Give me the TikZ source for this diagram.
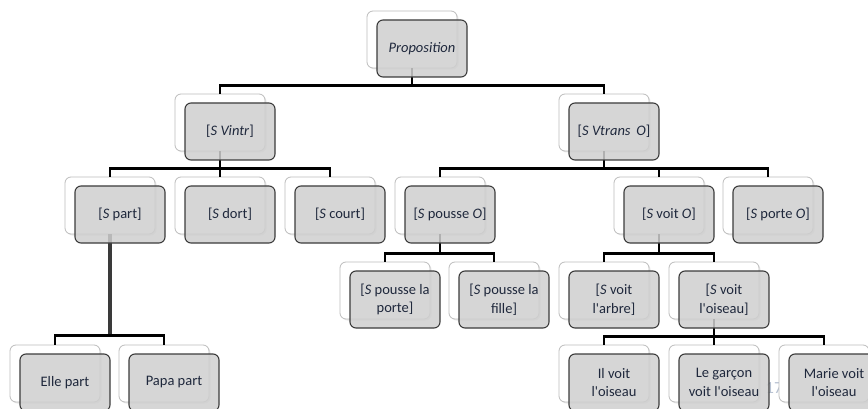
\documentclass[tikz,border=0pt]{standalone}
\usepackage{fontspec}
\newfontfamily\boxfont{Carlito}
\usetikzlibrary{shadows}
\definecolor{txt}{HTML}{1F283C}
\definecolor{backline}{HTML}{BDBDBD}
\definecolor{frontline}{HTML}{3C3C3C}
\definecolor{frontfill}{HTML}{CFCFCF}
\definecolor{thickline}{HTML}{3A3A3A}
\definecolor{pagenum}{HTML}{B8C2D2}
\begin{document}
\begin{tikzpicture}[x=1pt,y=-1pt,
  back/.style={draw=backline, fill=white, rounded corners=6pt,
    minimum width=90pt, minimum height=57pt, inner sep=0pt, line width=0.8pt,
    drop shadow={opacity=0.18, shadow xshift=1.5pt, shadow yshift=-1.5pt}},
  front/.style={draw=frontline, fill=frontfill, fill opacity=0.85, text opacity=1,
    rounded corners=6pt, minimum width=90pt, minimum height=57pt, inner sep=0pt,
    line width=1.1pt, text=txt, align=center,
    font=\boxfont\fontsize{14.5}{18.5}\selectfont},
  conn/.style={line width=2.6pt, black, line join=miter},
  thickconn/.style={line width=4.5pt, thickline},
  fshift/.style={shift={(10,9)}}]
\useasboundingbox[fill=white] (0,0) rectangle (868,409);

% faint page number behind the lowest row
\node[text=pagenum, font=\boxfont\fontsize{17}{20}\selectfont] (pnum) at (774,388) {17};

% back cards
\node[back] (prop-b)    at (412,39.5) {};
\node[back] (vintr-b)   at (220,122.5) {};
\node[back] (vtrans-b)  at (604,122.5) {};
\node[back] (part-b)    at (110,205.5) {};
\node[back] (dort-b)    at (220,205.5) {};
\node[back] (court-b)   at (330,205.5) {};
\node[back] (pousse-b)  at (440,205.5) {};
\node[back] (voit-b)    at (659,205.5) {};
\node[back] (porte-b)   at (768,205.5) {};
\node[back] (pporte-b)  at (385,290.5) {};
\node[back] (pfille-b)  at (494,290.5) {};
\node[back] (varbre-b)  at (604,290.5) {};
\node[back] (voiseau-b) at (714,290.5) {};
\node[back] (elle-b)    at (55,373.5) {};
\node[back] (papa-b)    at (164,373.5) {};
\node[back] (il-b)      at (604,373.5) {};
\node[back] (garcon-b)  at (714,373.5) {};
\node[back] (marie-b)   at (824,373.5) {};

% tree connectors
\draw[conn] (prop-b.south) -- ++(0,17) -| (vintr-b.north);
\draw[conn] (prop-b.south) -- ++(0,17) -| (vtrans-b.north);
\foreach \c in {part,dort,court}
  \draw[conn] (vintr-b.south) -- ++(0,17) -| (\c-b.north);
\foreach \c in {pousse,voit,porte}
  \draw[conn] (vtrans-b.south) -- ++(0,17) -| (\c-b.north);
\foreach \c in {pporte,pfille}
  \draw[conn] (pousse-b.south) -- ++(0,19) -| (\c-b.north);
\foreach \c in {varbre,voiseau}
  \draw[conn] (voit-b.south) -- ++(0,19) -| (\c-b.north);
\coordinate (partj) at ([yshift=9pt]part-b.south |- elle-b.north);
\draw[thickconn] (part-b.south) -- (partj);
\foreach \c in {elle,papa}
  \draw[conn] (partj) -| (\c-b.north);
\foreach \c in {il,garcon,marie}
  \draw[conn] (voiseau-b.south) -- ++(0,17) -| (\c-b.north);

% front cards
\node[front] (prop)    at ([fshift]prop-b.center)    {\textit{Proposition}};
\node[front] (vintr)   at ([fshift]vintr-b.center)   {[\textit{S Vintr}]};
\node[front] (vtrans)  at ([fshift]vtrans-b.center)  {[\textit{S Vtrans\, O}]};
\node[front] (part)    at ([fshift]part-b.center)    {[\textit{S} part]};
\node[front] (dort)    at ([fshift]dort-b.center)    {[\textit{S} dort]};
\node[front] (court)   at ([fshift]court-b.center)   {[\textit{S} court]};
\node[front] (pousse)  at ([fshift]pousse-b.center)  {[\textit{S} pousse \textit{O}]};
\node[front] (voit)    at ([fshift]voit-b.center)    {[\textit{S} voit \textit{O}]};
\node[front] (porte)   at ([fshift]porte-b.center)   {[\textit{S} porte \textit{O}]};
\node[front] (pporte)  at ([fshift]pporte-b.center)  {[\textit{S} pousse la\\porte]};
\node[front] (pfille)  at ([fshift]pfille-b.center)  {[\textit{S} pousse la\\fille]};
\node[front] (varbre)  at ([fshift]varbre-b.center)  {[\textit{S} voit\\l'arbre]};
\node[front] (voiseau) at ([fshift]voiseau-b.center) {[\textit{S} voit\\l'oiseau]};
\node[front] (elle)    at ([fshift]elle-b.center)    {Elle part};
\node[front] (papa)    at ([fshift]papa-b.center)    {Papa part};
\node[front] (il)      at ([fshift]il-b.center)      {Il voit\\l'oiseau};
\node[front] (garcon)  at ([fshift]garcon-b.center)  {Le garçon\\voit l'oiseau};
\node[front] (marie)   at ([fshift]marie-b.center)   {Marie voit\\l'oiseau};
\end{tikzpicture}
\end{document}
